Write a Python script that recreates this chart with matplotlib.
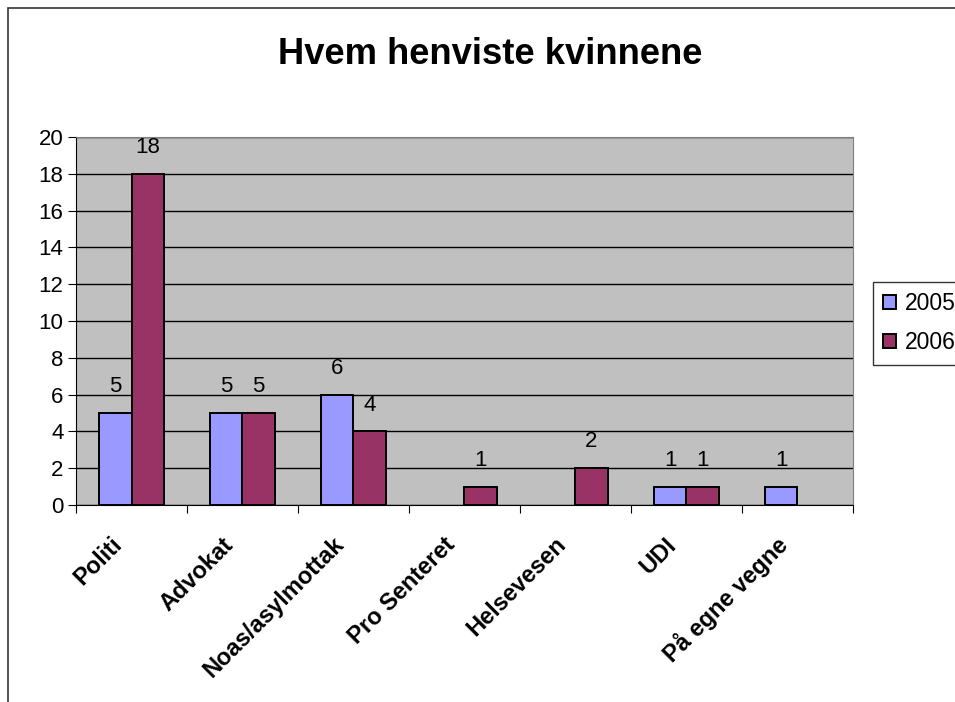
import numpy as np
import matplotlib
matplotlib.use("Agg")
import matplotlib.pyplot as plt
from matplotlib.patches import Rectangle
from matplotlib.transforms import blended_transform_factory, ScaledTranslation

plt.rcParams['font.family'] = ['Liberation Sans', 'DejaVu Sans']

categories = ['Politi', 'Advokat', 'Noas/asylmottak', 'Pro Senteret',
              'Helsevesen', 'UDI', 'På egne vegne']
v2005 = [5, 5, 6, 0, 0, 1, 1]
v2006 = [18, 5, 4, 1, 2, 1, 0]
series = ['2005', '2006']
colors = ['#9999FF', '#993366']

fig = plt.figure(figsize=(9.55, 7.02), dpi=100)
ax = fig.add_axes([0.0796, 0.2806, 0.8134, 0.5242])
ax.set_facecolor('#C0C0C0')

w = 0.29
x = np.arange(len(categories))
handles = []
for k, (vals, col) in enumerate(zip([v2005, v2006], colors)):
    offs = (k - 0.5) * w
    xs = [x[i] + offs for i in range(len(vals)) if vals[i] > 0]
    ys = [v for v in vals if v > 0]
    b = ax.bar(xs, ys, width=w, color=col, edgecolor='black', linewidth=1.4, zorder=3)
    handles.append(b)
    for xi, yi in zip(xs, ys):
        ax.annotate(str(yi), (xi, yi), xytext=(0, 19), textcoords='offset points',
                    ha='center', va='center', fontsize=16)

ax.set_xlim(-0.5, len(categories) - 0.5)
ax.set_ylim(0, 20)
ax.set_yticks(range(0, 21, 2))
ax.yaxis.grid(True, color='black', linewidth=1)
ax.set_axisbelow(True)
ax.tick_params(axis='y', labelsize=16, length=5.5, direction='out', pad=3.5)

ax.set_xticks(np.arange(-0.5, len(categories), 1.0))
ax.set_xticklabels([])
ax.tick_params(axis='x', which='major', length=6, direction='out')

# category labels, rotated, right end just below the group
trans = blended_transform_factory(ax.transData, ax.transAxes) + \
    ScaledTranslation(-9.5 / 72, -26 / 72, fig.dpi_scale_trans)
for i, name in enumerate(categories):
    ax.text(i, 0, name, transform=trans, rotation=45, rotation_mode='anchor',
            ha='right', va='center', fontsize=17, fontweight='bold')

for s in ['top', 'right']:
    ax.spines[s].set_color('#808080')
for s in ['left', 'bottom']:
    ax.spines[s].set_color('black')

fig.text(0.513, 0.923, 'Hvem henviste kvinnene', ha='center', va='center',
         fontsize=26.2, fontweight='bold')

leg = fig.legend(handles, series, loc='upper left', bbox_to_anchor=(873 / 955, 1 - 282 / 702),
                 fontsize=16.5, frameon=True, fancybox=False, edgecolor='black',
                 handlelength=0.57, handleheight=0.57, handletextpad=0.35,
                 borderpad=0.45, labelspacing=0.7, borderaxespad=0)
leg.get_frame().set_linewidth(1)

fig.patches.append(Rectangle((8 / 955, -0.1), 2, 1 - 8 / 702 + 0.1, fill=False,
                             edgecolor='#333333', linewidth=1.2,
                             transform=fig.transFigure, figure=fig))

fig.savefig('out.png', dpi=100)
